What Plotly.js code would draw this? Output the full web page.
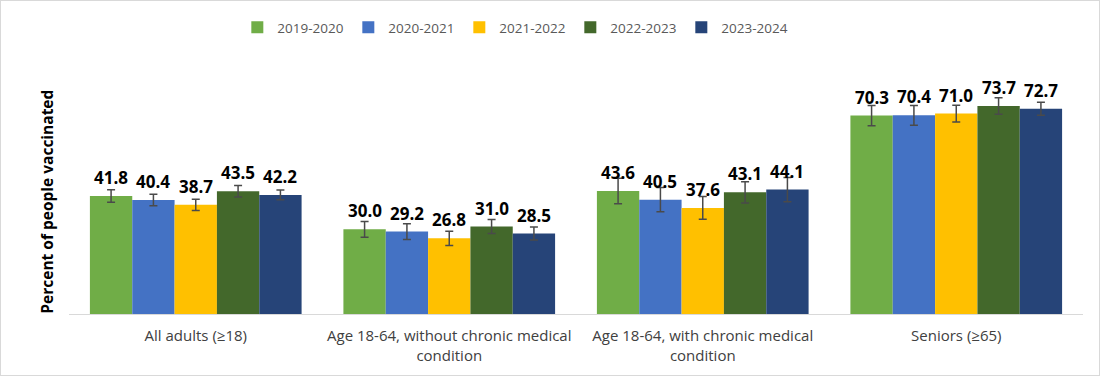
<!DOCTYPE html>
<html>
<head>
<meta charset="utf-8">
<script src="https://cdn.plot.ly/plotly-3.0.1.min.js"></script>
<style>
html,body{margin:0;padding:0;background:#fff;}
#wrap{position:relative;width:1100px;height:376px;}
#chart{width:1100px;height:376px;}
#frame{position:absolute;left:0;top:0;width:1100px;height:376px;box-sizing:border-box;border:1px solid #d9d9d9;pointer-events:none;}
</style>
</head>
<body>
<div id="wrap"><div id="chart"></div><div id="frame"></div></div>
<script>
// ---- data ----
const categories = [
  "All adults (≥18)",
  "Age 18-64, without chronic medical<br>condition",
  "Age 18-64, with chronic medical<br>condition",
  "Seniors (≥65)"
];
const seasons = ["2019-2020", "2020-2021", "2021-2022", "2022-2023", "2023-2024"];
const v2019 = [41.8, 30.0, 43.6, 70.3];
const v2020 = [40.4, 29.2, 40.5, 70.4];
const v2021 = [38.7, 26.8, 37.6, 71.0];
const v2022 = [43.5, 31.0, 43.1, 73.7];
const v2023 = [42.2, 28.5, 44.1, 72.7];
const e2019 = [2.2, 2.8, 4.5, 3.6];
const e2020 = [2.0, 2.8, 4.3, 3.5];
const e2021 = [2.0, 2.5, 4.0, 3.0];
const e2022 = [2.0, 2.5, 3.8, 2.9];
const e2023 = [1.7, 2.3, 4.3, 2.3];
const yTitle = "Percent of people vaccinated";

const values = [v2019, v2020, v2021, v2022, v2023];
const errors = [e2019, e2020, e2021, e2022, e2023];
const colors = ["#70ad47", "#4472c4", "#ffc000", "#43682b", "#264478"];

// ---- layout constants ----
const W = 1100, H = 376;
const M = {l: 69, r: 17, t: 60, b: 62};
const bargap = 0.165;
const plotW = W - M.l - M.r;
const catW = plotW / categories.length;
const barW = catW * (1 - bargap) / seasons.length;

const traces = seasons.map((s, i) => ({
  type: "bar",
  name: s,
  x: categories,
  y: values[i],
  marker: {color: colors[i]},
  error_y: {type: "data", array: errors[i], visible: true, color: "#4a4a4a", thickness: 1.5, width: 4},
  hoverinfo: "x+y+name"
}));

const annotations = [];
seasons.forEach((s, i) => {
  categories.forEach((c, j) => {
    annotations.push({
      x: c, y: values[i][j], xref: "x", yref: "y",
      text: values[i][j].toFixed(1),
      showarrow: false,
      xanchor: "center", yanchor: "bottom",
      xshift: (i - (seasons.length - 1) / 2) * barW,
      yshift: 5,
      font: {family: "Open Sans, sans-serif", size: 17, color: "#000000", weight: 700}
    });
  });
});
annotations.push({
  xref: "paper", yref: "paper",
  x: -0.0215, y: 0.443,
  xanchor: "center", yanchor: "middle",
  textangle: -90,
  showarrow: false,
  text: yTitle,
  font: {family: "Open Sans, sans-serif", size: 15.5, color: "#000000", weight: 700}
});

const layout = {
  width: W, height: H,
  margin: M,
  paper_bgcolor: "#ffffff",
  plot_bgcolor: "#ffffff",
  barmode: "group",
  bargap: bargap,
  bargroupgap: 0,
  showlegend: true,
  legend: {
    orientation: "h",
    x: 0.166, xanchor: "left",
    y: 1.128, yanchor: "middle",
    entrywidth: 66, entrywidthmode: "pixels",
    font: {family: "Open Sans, sans-serif", size: 13.5, color: "#595959"},
    traceorder: "normal"
  },
  xaxis: {
    type: "category",
    showline: true, linecolor: "#d9d9d9", linewidth: 1,
    ticks: "", showgrid: false, zeroline: false,
    ticklabelstandoff: 8,
    tickfont: {family: "Open Sans, sans-serif", size: 15, color: "#404040"},
    automargin: false
  },
  yaxis: {
    range: [0, 90],
    showticklabels: false, ticks: "", showgrid: false, zeroline: false, showline: false,
    automargin: false
  },
  annotations: annotations,
  font: {family: "Open Sans, sans-serif"}
};

Plotly.newPlot("chart", traces, layout, {displayModeBar: false, responsive: false});
</script>
</body>
</html>
